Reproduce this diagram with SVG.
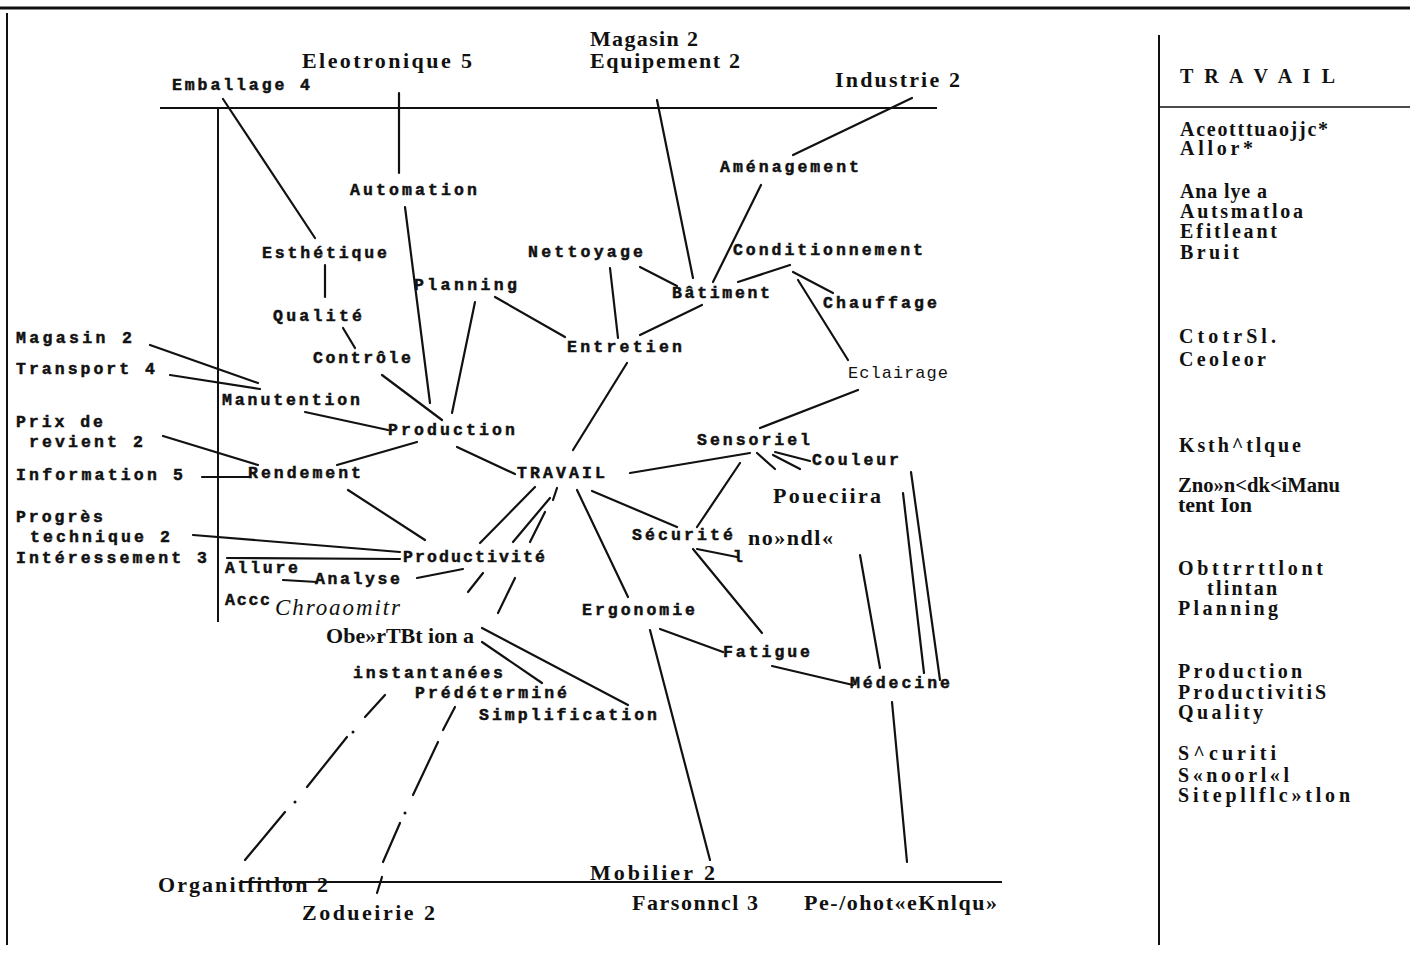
<svg xmlns="http://www.w3.org/2000/svg" width="1410" height="958" viewBox="0 0 1410 958">
<style>
.tw{font-family:"Liberation Mono",monospace;font-weight:bold;font-size:16.5px;fill:#111;stroke:#111;stroke-width:0.5}
.ec{font-family:"Liberation Mono",monospace;font-size:17px;fill:#111}
.ocr{font-family:"Liberation Serif",serif;font-weight:bold;font-size:22px;fill:#111}
.it{font-family:"Liberation Serif",serif;font-style:italic;font-size:23px;fill:#111}
.pn{font-family:"Liberation Serif",serif;font-weight:bold;font-size:20px;fill:#111}
.c line{stroke:#111;stroke-width:2.2;stroke-linecap:round}
.frame line{stroke:#111}
</style>
<rect width="1410" height="958" fill="#fff"/>
<g class="frame">
<line x1="0" y1="8" x2="1410" y2="8" stroke-width="3"/>
<line x1="7" y1="13" x2="7" y2="945" stroke-width="2"/>
<line x1="1159" y1="35" x2="1159" y2="945" stroke-width="2"/>
<line x1="1159" y1="107" x2="1410" y2="107" stroke-width="1.5"/>
<line x1="160" y1="108" x2="937" y2="108" stroke-width="2"/>
<line x1="218" y1="108" x2="218" y2="622" stroke-width="2"/>
<line x1="240" y1="882" x2="1002" y2="882" stroke-width="2"/>
</g>
<g id="connectors" class="c">
<line x1="223" y1="99" x2="315" y2="238"/>
<line x1="399" y1="93" x2="399" y2="173"/>
<line x1="405" y1="207" x2="430" y2="403"/>
<line x1="325" y1="265" x2="325" y2="297"/>
<line x1="343" y1="328" x2="355" y2="348"/>
<line x1="382" y1="375" x2="442" y2="420"/>
<line x1="475" y1="302" x2="452" y2="413"/>
<line x1="657" y1="100" x2="693" y2="278"/>
<line x1="912" y1="98" x2="793" y2="155"/>
<line x1="761" y1="185" x2="713" y2="282"/>
<line x1="640" y1="267" x2="677" y2="286"/>
<line x1="610" y1="268" x2="618" y2="338"/>
<line x1="790" y1="265" x2="738" y2="282"/>
<line x1="793" y1="272" x2="833" y2="293"/>
<line x1="798" y1="280" x2="848" y2="360"/>
<line x1="702" y1="305" x2="640" y2="335"/>
<line x1="495" y1="297" x2="565" y2="337"/>
<line x1="627" y1="363" x2="573" y2="450"/>
<line x1="858" y1="390" x2="760" y2="428"/>
<line x1="630" y1="473" x2="750" y2="453"/>
<line x1="740" y1="463" x2="697" y2="527"/>
<line x1="775" y1="452" x2="810" y2="461"/>
<line x1="773" y1="455" x2="800" y2="469"/>
<line x1="757" y1="453" x2="775" y2="469"/>
<line x1="592" y1="491" x2="677" y2="527"/>
<line x1="697" y1="549" x2="737" y2="557"/>
<line x1="693" y1="549" x2="762" y2="633"/>
<line x1="577" y1="490" x2="628" y2="597"/>
<line x1="535" y1="487" x2="480" y2="543"/>
<line x1="457" y1="447" x2="515" y2="474"/>
<line x1="150" y1="345" x2="258" y2="383"/>
<line x1="170" y1="375" x2="260" y2="389"/>
<line x1="305" y1="412" x2="388" y2="430"/>
<line x1="163" y1="436" x2="258" y2="465"/>
<line x1="202" y1="477" x2="250" y2="477"/>
<line x1="337" y1="465" x2="417" y2="442"/>
<line x1="348" y1="490" x2="425" y2="540"/>
<line x1="193" y1="535" x2="400" y2="552"/>
<line x1="227" y1="558" x2="400" y2="559"/>
<line x1="283" y1="580" x2="317" y2="582"/>
<line x1="417" y1="578" x2="463" y2="569"/>
<line x1="557" y1="488" x2="553" y2="500"/>
<line x1="550" y1="498" x2="513" y2="542"/>
<line x1="483" y1="573" x2="468" y2="592"/>
<line x1="385" y1="695" x2="365" y2="717"/>
<line x1="347" y1="737" x2="307" y2="787"/>
<line x1="285" y1="812" x2="245" y2="860"/>
<line x1="545" y1="512" x2="530" y2="542"/>
<line x1="515" y1="578" x2="498" y2="613"/>
<line x1="455" y1="707" x2="443" y2="730"/>
<line x1="438" y1="742" x2="413" y2="795"/>
<line x1="400" y1="823" x2="383" y2="862"/>
<line x1="382" y1="877" x2="377" y2="893"/>
<line x1="482" y1="628" x2="628" y2="705"/>
<line x1="482" y1="642" x2="542" y2="683"/>
<line x1="650" y1="630" x2="710" y2="860"/>
<line x1="660" y1="629" x2="723" y2="652"/>
<line x1="772" y1="666" x2="853" y2="685"/>
<line x1="892" y1="702" x2="907" y2="862"/>
<line x1="860" y1="555" x2="880" y2="668"/>
<line x1="903" y1="493" x2="924" y2="673"/>
<line x1="911" y1="472" x2="940" y2="680"/>
</g>
<g fill="#111">
<circle cx="353" cy="732" r="1.5"/><circle cx="295" cy="802" r="1.5"/><circle cx="405" cy="813" r="1.5"/>
</g>
<g id="n-eleotronique"><text class="ocr" x="302" y="68" textLength="170" lengthAdjust="spacing">Eleotronique  5</text></g>
<g id="n-emballage"><text class="tw" x="172" y="90" textLength="138" lengthAdjust="spacing">Emballage 4</text></g>
<g id="n-magasin-top"><text class="ocr" x="590" y="46" textLength="108" lengthAdjust="spacing">Magasin  2</text><text class="ocr" x="590" y="68" textLength="150" lengthAdjust="spacing">Equipement   2</text></g>
<g id="n-industrie"><text class="ocr" x="835" y="87" textLength="125" lengthAdjust="spacing">Industrie  2</text></g>
<g id="n-automation"><text class="tw" x="350" y="195" textLength="127" lengthAdjust="spacing">Automation</text></g>
<g id="n-amenagement"><text class="tw" x="720" y="172" textLength="139" lengthAdjust="spacing">Aménagement</text></g>
<g id="n-esthetique"><text class="tw" x="262" y="258" textLength="125" lengthAdjust="spacing">Esthétique</text></g>
<g id="n-nettoyage"><text class="tw" x="528" y="257" textLength="115" lengthAdjust="spacing">Nettoyage</text></g>
<g id="n-conditionnement"><text class="tw" x="733" y="255" textLength="190" lengthAdjust="spacing">Conditionnement</text></g>
<g id="n-planning"><text class="tw" x="414" y="290" textLength="103" lengthAdjust="spacing">Planning</text></g>
<g id="n-batiment"><text class="tw" x="672" y="298" textLength="98" lengthAdjust="spacing">Bâtiment</text></g>
<g id="n-chauffage"><text class="tw" x="823" y="308" textLength="114" lengthAdjust="spacing">Chauffage</text></g>
<g id="n-qualite"><text class="tw" x="273" y="321" textLength="89" lengthAdjust="spacing">Qualité</text></g>
<g id="n-magasin-left"><text class="tw" x="16" y="343" textLength="116" lengthAdjust="spacing">Magasin 2</text></g>
<g id="n-entretien"><text class="tw" x="567" y="352" textLength="115" lengthAdjust="spacing">Entretien</text></g>
<g id="n-controle"><text class="tw" x="313" y="363" textLength="98" lengthAdjust="spacing">Contrôle</text></g>
<g id="n-transport"><text class="tw" x="16" y="374" textLength="139" lengthAdjust="spacing">Transport 4</text></g>
<g id="n-eclairage"><text class="ec" x="848" y="378" textLength="100" lengthAdjust="spacing">Eclairage</text></g>
<g id="n-manutention"><text class="tw" x="222" y="405" textLength="138" lengthAdjust="spacing">Manutention</text></g>
<g id="n-prix"><text class="tw" x="16" y="427" textLength="87" lengthAdjust="spacing">Prix de</text><text class="tw" x="29" y="447" textLength="114" lengthAdjust="spacing">revient 2</text></g>
<g id="n-production"><text class="tw" x="388" y="435" textLength="127" lengthAdjust="spacing">Production</text></g>
<g id="n-sensoriel"><text class="tw" x="697" y="445" textLength="113" lengthAdjust="spacing">Sensoriel</text></g>
<g id="n-couleur"><text class="tw" x="812" y="465" textLength="87" lengthAdjust="spacing">Couleur</text></g>
<g id="n-information"><text class="tw" x="16" y="480" textLength="167" lengthAdjust="spacing">Information 5</text></g>
<g id="n-rendement"><text class="tw" x="248" y="478" textLength="113" lengthAdjust="spacing">Rendement</text></g>
<g id="n-travail"><text class="tw" x="517" y="478" textLength="88" lengthAdjust="spacing">TRAVAIL</text></g>
<g id="n-poueciira"><text class="ocr" x="773" y="503" textLength="108" lengthAdjust="spacing">Poueciira</text></g>
<g id="n-progres"><text class="tw" x="16" y="522" textLength="87" lengthAdjust="spacing">Progrès</text><text class="tw" x="30" y="542" textLength="140" lengthAdjust="spacing">technique 2</text><text class="tw" x="16" y="563" textLength="191" lengthAdjust="spacing">Intéressement 3</text></g>
<g id="n-securite"><text class="tw" x="632" y="540" textLength="101" lengthAdjust="spacing">Sécurité</text></g>
<g id="n-nondl"><text class="ocr" x="748" y="545" textLength="85" lengthAdjust="spacing">no»ndl«</text></g>
<g id="n-l"><text class="tw" x="733" y="562">l</text></g>
<g id="n-productivite"><text class="tw" x="403" y="562" textLength="142" lengthAdjust="spacing">Productivité</text></g>
<g id="n-allure"><text class="tw" x="225" y="573" textLength="73" lengthAdjust="spacing">Allure</text></g>
<g id="n-analyse"><text class="tw" x="315" y="584" textLength="85" lengthAdjust="spacing" font-size="15">Analyse</text></g>
<g id="n-accc"><text class="tw" x="225" y="605" textLength="45" lengthAdjust="spacing">Accc</text></g>
<g id="n-chroaomitr"><text class="it" x="275" y="615" textLength="125" lengthAdjust="spacing">Chroaomitr</text></g>
<g id="n-ergonomie"><text class="tw" x="582" y="615" textLength="113" lengthAdjust="spacing">Ergonomie</text></g>
<g id="n-observation"><text class="ocr" x="326" y="643" textLength="148" lengthAdjust="spacing">Obe»rTBt ion a</text></g>
<g id="n-fatigue"><text class="tw" x="723" y="657" textLength="87" lengthAdjust="spacing">Fatigue</text></g>
<g id="n-instantanees"><text class="tw" x="353" y="678" textLength="150" lengthAdjust="spacing">instantanées</text></g>
<g id="n-medecine"><text class="tw" x="850" y="688" textLength="100" lengthAdjust="spacing">Médecine</text></g>
<g id="n-predetermine"><text class="tw" x="415" y="698" textLength="152" lengthAdjust="spacing">Prédéterminé</text></g>
<g id="n-simplification"><text class="tw" x="479" y="720" textLength="178" lengthAdjust="spacing">Simplification</text></g>
<g id="n-mobilier"><text class="ocr" x="590" y="880" textLength="125" lengthAdjust="spacing">Mobilier 2</text></g>
<g id="n-organisation"><text class="ocr" x="158" y="892" textLength="170" lengthAdjust="spacing">Organitfitlon   2</text></g>
<g id="n-zodueirie"><text class="ocr" x="302" y="920" textLength="133" lengthAdjust="spacing">Zodueirie  2</text></g>
<g id="n-farsonncl"><text class="ocr" x="632" y="910" textLength="126" lengthAdjust="spacing">Farsonncl 3</text></g>
<g id="n-pe"><text class="ocr" x="804" y="910" textLength="193" lengthAdjust="spacing">Pe-/ohot«eKnlqu»</text></g>
<g id="panel">
<text class="pn" x="1180" y="83" textLength="155" lengthAdjust="spacing">T R A V A I L</text>
<text class="pn" x="1180" y="136" textLength="148" lengthAdjust="spacing">Aceotttuaojjc*</text>
<text class="pn" x="1180" y="155" textLength="73" lengthAdjust="spacing">Allor*</text>
<text class="pn" x="1180" y="198" textLength="87" lengthAdjust="spacing">Ana lye a</text>
<text class="pn" x="1180" y="218" textLength="123" lengthAdjust="spacing">Autsmatloa</text>
<text class="pn" x="1180" y="238" textLength="97" lengthAdjust="spacing">Efitleant</text>
<text class="pn" x="1180" y="259" textLength="59" lengthAdjust="spacing">Bruit</text>
<text class="pn" x="1179" y="343" textLength="97" lengthAdjust="spacing">CtotrSl.</text>
<text class="pn" x="1179" y="366" textLength="87" lengthAdjust="spacing">Ceoleor</text>
<text class="pn" x="1179" y="452" textLength="122" lengthAdjust="spacing">Ksth^tlque</text>
<text class="pn" x="1178" y="492" textLength="162" lengthAdjust="spacingAndGlyphs">Zno»n&lt;dk&lt;iManu</text>
<text class="pn" x="1178" y="512" textLength="74" lengthAdjust="spacingAndGlyphs">tent Ion</text>
<text class="pn" x="1178" y="575" textLength="145" lengthAdjust="spacing">Obttrrttlont</text>
<text class="pn" x="1207" y="595" textLength="70" lengthAdjust="spacing">tlintan</text>
<text class="pn" x="1178" y="615" textLength="100" lengthAdjust="spacing">Planning</text>
<text class="pn" x="1178" y="678" textLength="124" lengthAdjust="spacing">Production</text>
<text class="pn" x="1178" y="699" textLength="148" lengthAdjust="spacing">ProductivitiS</text>
<text class="pn" x="1178" y="719" textLength="85" lengthAdjust="spacing">Quality</text>
<text class="pn" x="1178" y="760" textLength="98" lengthAdjust="spacing">S^curiti</text>
<text class="pn" x="1178" y="782" textLength="111" lengthAdjust="spacing">S«noorl«l</text>
<text class="pn" x="1178" y="802" textLength="172" lengthAdjust="spacing">Sitepllflc»tlon</text>
</g>
</svg>
